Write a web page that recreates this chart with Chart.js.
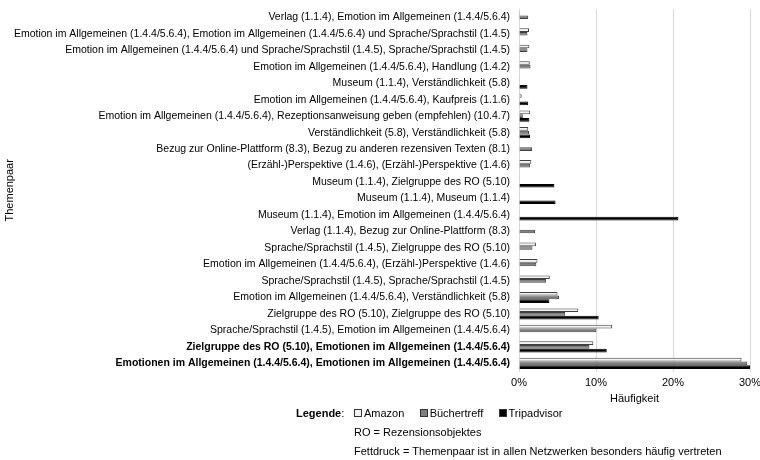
<!DOCTYPE html>
<html>
<head>
<meta charset="utf-8">
<script src="https://cdn.jsdelivr.net/npm/chart.js@4/dist/chart.umd.min.js"></script>
<style>
  html, body { margin: 0; padding: 0; background: #fff; }
  #wrap { position: relative; width: 760px; height: 460px; font-family: "Liberation Sans", Arial, sans-serif; color: #000; }
  #c { position: absolute; left: 0; top: 0; }
  .note { position: absolute; font-size: 11px; line-height: 13px; white-space: nowrap; }
  .sq { display: inline-block; width: 6px; height: 6px; border: 1px solid #333; margin-right: 2px; vertical-align: 0px; }
</style>
</head>
<body>
<div id="wrap">
  <canvas id="c" width="760" height="460"></canvas>
  <div class="note" style="left:296px; top:407px;"><b>Legende</b>:</div>
  <div class="note" style="left:354px; top:407px;">
    <span class="sq" style="background:#f2f2f2"></span>Amazon&nbsp;&nbsp;&nbsp;&nbsp;
    <span class="sq" style="background:#7f7f7f"></span>Büchertreff&nbsp;&nbsp;&nbsp;&nbsp;
    <span class="sq" style="background:#000"></span>Tripadvisor
  </div>
  <div class="note" style="left:354px; top:426px;">RO = Rezensionsobjektes</div>
  <div class="note" style="left:354px; top:445px;">Fettdruck = Themenpaar ist in allen Netzwerken besonders häufig vertreten</div>
</div>
<script>
const categories = [
  "Verlag (1.1.4), Emotion im Allgemeinen (1.4.4/5.6.4)",
  "Emotion im Allgemeinen (1.4.4/5.6.4), Emotion im Allgemeinen (1.4.4/5.6.4) und Sprache/Sprachstil (1.4.5)",
  "Emotion im Allgemeinen (1.4.4/5.6.4) und Sprache/Sprachstil (1.4.5), Sprache/Sprachstil (1.4.5)",
  "Emotion im Allgemeinen (1.4.4/5.6.4), Handlung (1.4.2)",
  "Museum (1.1.4), Verständlichkeit (5.8)",
  "Emotion im Allgemeinen (1.4.4/5.6.4), Kaufpreis (1.1.6)",
  "Emotion im Allgemeinen (1.4.4/5.6.4), Rezeptionsanweisung geben (empfehlen) (10.4.7)",
  "Verständlichkeit (5.8), Verständlichkeit (5.8)",
  "Bezug zur Online-Plattform (8.3), Bezug zu anderen rezensiven Texten (8.1)",
  "(Erzähl-)Perspektive (1.4.6), (Erzähl-)Perspektive (1.4.6)",
  "Museum (1.1.4), Zielgruppe des RO (5.10)",
  "Museum (1.1.4), Museum (1.1.4)",
  "Museum (1.1.4), Emotion im Allgemeinen (1.4.4/5.6.4)",
  "Verlag (1.1.4), Bezug zur Online-Plattform (8.3)",
  "Sprache/Sprachstil (1.4.5), Zielgruppe des RO (5.10)",
  "Emotion im Allgemeinen (1.4.4/5.6.4), (Erzähl-)Perspektive (1.4.6)",
  "Sprache/Sprachstil (1.4.5), Sprache/Sprachstil (1.4.5)",
  "Emotion im Allgemeinen (1.4.4/5.6.4), Verständlichkeit (5.8)",
  "Zielgruppe des RO (5.10), Zielgruppe des RO (5.10)",
  "Sprache/Sprachstil (1.4.5), Emotion im Allgemeinen (1.4.4/5.6.4)",
  "Zielgruppe des RO (5.10), Emotionen im Allgemeinen (1.4.4/5.6.4)",
  "Emotionen im Allgemeinen (1.4.4/5.6.4), Emotionen im Allgemeinen (1.4.4/5.6.4)"
];
const boldCategories = [
  "Zielgruppe des RO (5.10), Emotionen im Allgemeinen (1.4.4/5.6.4)",
  "Emotionen im Allgemeinen (1.4.4/5.6.4), Emotionen im Allgemeinen (1.4.4/5.6.4)"
];
const amazon      = [0.15, 1.3, 1.35, 1.4, 0.1, 0.35, 1.45, 1.2, 0,   1.6,  0.1, 0.1,  0.1, 0,   2.2,  2.4,  4.0, 5.0,  7.7,  12.1, 9.65, 28.9];
const buechertreff= [1.2,  1.1, 1.1,  1.5, 0,   0.1,  0.5,  1.3, 1.7, 1.45, 0,   0,    0,   2.1, 1.75, 2.25, 3.5, 5.2,  6.0,  10.05, 9.15, 29.65];
const tripadvisor = [0,    0,   0,    0,   1.1, 1.2,  1.35, 1.45, 0,  0,    4.6, 4.75, 20.7, 0,  0,    0,    0,   3.95, 10.35, 0,   11.4, 30.0];
const seriesNames = ["Amazon", "Büchertreff", "Tripadvisor"];
const xTicks = [0, 10, 20, 30];

const FONT = "'Liberation Sans', Arial, sans-serif";

new Chart(document.getElementById('c'), {
  type: 'bar',
  data: {
    labels: categories,
    datasets: [
      { label: seriesNames[0], data: amazon, backgroundColor: '#f2f2f2', borderColor: '#404040', borderWidth: 1 },
      { label: seriesNames[1], data: buechertreff, backgroundColor: '#7f7f7f', borderColor: '#404040', borderWidth: 1 },
      { label: seriesNames[2], data: tripadvisor, backgroundColor: '#000000', borderColor: '#000000', borderWidth: 1 }
    ]
  },
  options: {
    indexAxis: 'y',
    responsive: false,
    animation: false,
    datasets: { bar: { categoryPercentage: 0.67, barPercentage: 1.0 } },
    layout: { padding: { left: 0, right: 0, top: 9, bottom: 54 } },
    plugins: { legend: { display: false }, tooltip: { enabled: false } },
    scales: {
      x: {
        min: 0, max: 30,
        afterBuildTicks: (s) => { s.ticks = xTicks.map(v => ({ value: v })); },
        afterFit: (s) => { s.paddingRight = 10; s.paddingLeft = 0; },
        ticks: { color: '#000', font: { family: FONT, size: 11 }, padding: 5, callback: v => v + '%' },
        grid: { color: '#d9d9d9', drawTicks: false },
        border: { display: false },
        title: { display: true, text: 'Häufigkeit', color: '#000', font: { family: FONT, size: 11 }, padding: { top: -2, bottom: 0 } }
      },
      y: {
        afterFit: (s) => { s.width = 519; s.paddingTop = 0; s.paddingBottom = 0; },
        ticks: {
          color: '#000', padding: 9, autoSkip: false,
          font: (ctx) => ({ family: FONT, size: 10.5, weight: boldCategories.includes(categories[ctx.index]) ? 'bold' : 'normal' })
        },
        grid: { display: false, drawTicks: false },
        border: { display: true, color: '#d9d9d9' },
        title: { display: true, text: 'Themenpaar', color: '#000', font: { family: FONT, size: 11 }, padding: { top: 3, bottom: 0 } }
      }
    }
  }
});
</script>
</body>
</html>
